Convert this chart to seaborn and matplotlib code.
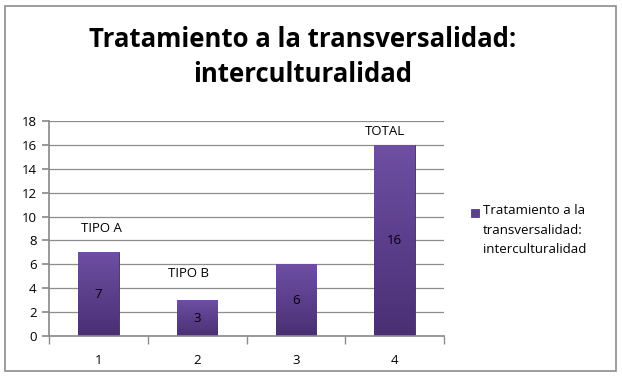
import matplotlib
matplotlib.use("Agg")
import matplotlib.pyplot as plt
import seaborn as sns
import pandas as pd
import numpy as np
from matplotlib.patches import Rectangle
from matplotlib.colors import LinearSegmentedColormap

categories = ["1", "2", "3", "4"]
values = [7, 3, 6, 16]
bar_notes = ["TIPO A", "TIPO B", "", "TOTAL"]
series_name = "Tratamiento a la\ntransversalidad:\ninterculturalidad"
title = "Tratamiento a la transversalidad:\ninterculturalidad"

sns.set_theme(style="white")
plt.rcParams["font.family"] = ["Open Sans", "DejaVu Sans"]
plt.rcParams["text.color"] = "black"

df = pd.DataFrame({"cat": categories, "val": values})

fig = plt.figure(figsize=(6.22, 3.8), dpi=100)
ax = fig.add_axes([49 / 622, 1 - 336 / 380, 395 / 622, 215 / 380])

sns.barplot(data=df, x="cat", y="val", color="#5d3f8f", width=0.41,
            edgecolor="#3f2a66", linewidth=0.6, ax=ax)

# vertical purple gradient on each bar
cmap = LinearSegmentedColormap.from_list("purp", ["#6e4fa3", "#4a2f74"])
grad = np.linspace(0, 1, 100).reshape(-1, 1)
for p in ax.patches:
    x0, y0 = p.get_x(), p.get_y()
    w, h = p.get_width(), p.get_height()
    im = ax.imshow(grad, cmap=cmap, aspect="auto", origin="upper",
                   extent=[x0, x0 + w, y0, y0 + h], zorder=p.get_zorder() + 0.1)
    im.set_clip_path(p)

ax.set_xlim(-0.5, 3.5)
ax.set_ylim(0, 18)
ax.set_yticks(range(0, 19, 2))
ax.set_xlabel("")
ax.set_ylabel("")
ax.yaxis.grid(True, color="#8c8c8c", linewidth=0.9)
ax.set_axisbelow(True)
for s in ["top", "right"]:
    ax.spines[s].set_visible(False)
ax.spines["left"].set_color("#8c8c8c")
ax.spines["bottom"].set_color("#8c8c8c")
ax.tick_params(axis="y", left=True, length=5, color="#8c8c8c", labelsize=9.5,
               labelcolor="black", pad=4)
ax.tick_params(axis="x", bottom=False, labelsize=9.5, labelcolor="black", pad=7)
# category boundary ticks on x axis
ax.set_xticks([-0.5, 0.5, 1.5, 2.5, 3.5], minor=True)
ax.tick_params(axis="x", which="minor", bottom=True, length=6, color="#8c8c8c")

# values inside bars
for i, v in enumerate(values):
    ax.text(i, v / 2, str(v), ha="center", va="center", fontsize=9.5, color="black", zorder=5)

# notes above bars
note_dx = [0.03, -0.09, 0, -0.1]
note_dy = [24, 27, 0, 13]
for i, (v, t) in enumerate(zip(values, bar_notes)):
    if t:
        ax.annotate(t, (i + note_dx[i], v), xytext=(0, note_dy[i]), textcoords="offset pixels",
                    ha="center", va="center", fontsize=9.5, color="black", zorder=5)

# title
fig.text(303 / 622, 1 - 57 / 380, title, ha="center", va="center", fontsize=18.5,
         fontweight="bold", linespacing=1.35)

# legend
fig.add_artist(Rectangle((471 / 622, 1 - 217 / 380), 8 / 622, 8 / 380,
                         transform=fig.transFigure, facecolor="#5d3f8f", edgecolor="#3f2a66", lw=0.5))
fig.text(483 / 622, 1 - 204 / 380, series_name, ha="left", va="top", fontsize=9.5,
         color="black", linespacing=1.65)

# outer border
fig.add_artist(Rectangle((5 / 622, 1 - 371 / 380), 611 / 622, 365 / 380,
                         transform=fig.transFigure, fill=False, edgecolor="#8c8c8c", lw=1.2))

fig.savefig("out.png", dpi=100)
